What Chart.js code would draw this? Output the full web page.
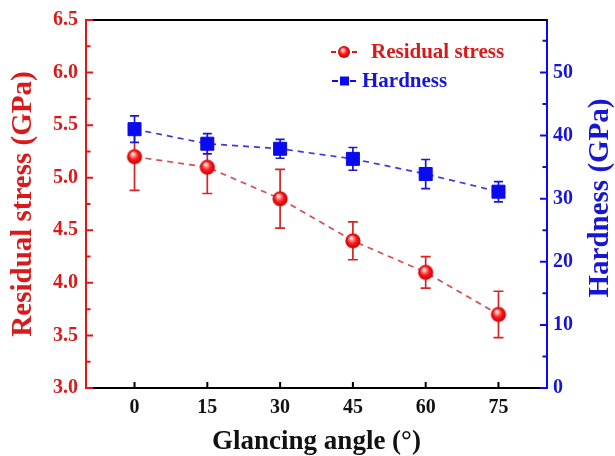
<!DOCTYPE html>
<html>
<head>
<meta charset="utf-8">
<script src="https://cdn.jsdelivr.net/npm/chart.js@4/dist/chart.umd.min.js"></script>
<style>
  html, body { margin: 0; padding: 0; background: #fff; }
  canvas { display: block; }
</style>
</head>
<body>
<canvas id="c" width="615" height="456"></canvas>
<script>
// Glancing angle (degrees)
const angles = [0, 15, 30, 45, 60, 75];
// Residual stress (GPa) and its error
const stress = [5.2, 5.1, 4.8, 4.4, 4.1, 3.7];
const stressErr = [0.32, 0.25, 0.28, 0.18, 0.15, 0.22];
// Hardness (GPa) and its error
const hardness = [41.0, 38.7, 37.9, 36.3, 33.9, 31.1];
const hardnessErr = [2.1, 1.6, 1.5, 1.8, 2.3, 1.6];

// Tick values
const xTicks = [0, 15, 30, 45, 60, 75];
const stressTicks = [3.0, 3.5, 4.0, 4.5, 5.0, 5.5, 6.0, 6.5];
const stressMinor = [3.25, 3.75, 4.25, 4.75, 5.25, 5.75, 6.25];
const hardnessTicks = [0, 10, 20, 30, 40, 50];
const hardnessMinor = [5, 15, 25, 35, 45, 55];

const SERIF = '"Liberation Serif", "Times New Roman", serif';
const RED = '#e21414';
const RED_TEXT = '#d91a1a';
const BLUE = '#0a0af0';
const BLUE_TEXT = '#1616d4';
const HARDNESS_TITLE = 'Hardness (GPa)';

// Shaded red sphere used as the stress marker
function makeSphere(r) {
  const c = document.createElement('canvas');
  const s = Math.ceil(r * 2 + 2);
  c.width = s; c.height = s;
  const g = c.getContext('2d');
  const cx = s / 2, cy = s / 2;
  const grad = g.createRadialGradient(cx - r * 0.25, cy - r * 0.4, r * 0.05, cx, cy, r);
  grad.addColorStop(0, '#ffffff');
  grad.addColorStop(0.22, '#ff9a9a');
  grad.addColorStop(0.55, '#ff1a1a');
  grad.addColorStop(1, '#c40000');
  g.fillStyle = grad;
  g.beginPath();
  g.arc(cx, cy, r, 0, Math.PI * 2);
  g.fill();
  return c;
}
const sphere = makeSphere(7.6);
const sphereSmall = makeSphere(6);

// Vertical error bars with caps, drawn beneath the markers
const errorBars = {
  id: 'errorBars',
  beforeDatasetsDraw(chart) {
    const { ctx, scales } = chart;
    const x = scales.x;
    const draw = (vals, errs, sc, color, cap) => {
      ctx.save();
      ctx.strokeStyle = color;
      ctx.lineWidth = 1.7;
      vals.forEach((v, i) => {
        const px = x.getPixelForValue(angles[i]);
        const top = sc.getPixelForValue(v + errs[i]);
        const bot = sc.getPixelForValue(v - errs[i]);
        ctx.beginPath();
        ctx.moveTo(px, top); ctx.lineTo(px, bot);
        ctx.moveTo(px - cap, top); ctx.lineTo(px + cap, top);
        ctx.moveTo(px - cap, bot); ctx.lineTo(px + cap, bot);
        ctx.stroke();
      });
      ctx.restore();
    };
    draw(stress, stressErr, scales.yL, '#d42424', 5);
    draw(hardness, hardnessErr, scales.yR, '#1818d8', 4.5);
  }
};

// Top frame line, inward-pointing tick marks and the right-hand axis title
const frameTicks = {
  id: 'frameTicks',
  afterDraw(chart) {
    const { ctx, chartArea: a, scales } = chart;
    ctx.save();
    ctx.lineWidth = 2;
    ctx.strokeStyle = '#000';
    ctx.beginPath();
    ctx.moveTo(a.left, a.top); ctx.lineTo(a.right, a.top);
    ctx.stroke();

    const vTicks = (sc, list, len, color, side) => {
      ctx.strokeStyle = color;
      ctx.lineWidth = 2;
      ctx.beginPath();
      list.forEach(v => {
        const py = sc.getPixelForValue(v);
        const x0 = side === 'left' ? a.left : a.right;
        const x1 = side === 'left' ? a.left + len : a.right - len;
        ctx.moveTo(x0, py); ctx.lineTo(x1, py);
      });
      ctx.stroke();
    };
    vTicks(scales.yL, stressTicks, 7, RED, 'left');
    vTicks(scales.yL, stressMinor, 4.5, RED, 'left');
    vTicks(scales.yR, hardnessTicks, 7, BLUE, 'right');
    vTicks(scales.yR, hardnessMinor, 4.5, BLUE, 'right');

    ctx.strokeStyle = '#000';
    ctx.beginPath();
    xTicks.forEach(v => {
      const px = scales.x.getPixelForValue(v);
      ctx.moveTo(px, a.bottom); ctx.lineTo(px, a.bottom - 6);
    });
    ctx.stroke();

    // Right axis title reads bottom-to-top like the left one
    ctx.translate(601, (a.top + a.bottom) / 2 - 6);
    ctx.rotate(-Math.PI / 2);
    ctx.font = 'bold 29px ' + SERIF;
    ctx.fillStyle = BLUE_TEXT;
    ctx.textAlign = 'center';
    ctx.textBaseline = 'middle';
    ctx.fillText(HARDNESS_TITLE, 0, 0);
    ctx.restore();
  }
};

// Legend in the upper right of the plot
const legendBox = {
  id: 'legendBox',
  afterDraw(chart) {
    const { ctx } = chart;
    ctx.save();
    ctx.font = 'bold 21px ' + SERIF;
    ctx.textBaseline = 'middle';
    ctx.textAlign = 'left';
    ctx.lineWidth = 2;

    // Residual stress entry
    let y = 52;
    ctx.strokeStyle = RED;
    ctx.beginPath();
    ctx.moveTo(331, y); ctx.lineTo(336, y);
    ctx.moveTo(352, y); ctx.lineTo(357, y);
    ctx.stroke();
    ctx.drawImage(sphereSmall, 344 - sphereSmall.width / 2, y - sphereSmall.height / 2);
    ctx.fillStyle = RED_TEXT;
    ctx.fillText(chart.data.datasets[0].label, 371, y + 1);

    // Hardness entry
    y = 81;
    ctx.strokeStyle = BLUE;
    ctx.beginPath();
    ctx.moveTo(332, y); ctx.lineTo(338, y);
    ctx.moveTo(350, y); ctx.lineTo(356, y);
    ctx.stroke();
    ctx.fillStyle = BLUE;
    ctx.fillRect(340, y - 4.5, 9, 9);
    ctx.fillStyle = BLUE_TEXT;
    ctx.fillText(chart.data.datasets[1].label, 362, y + 1);
    ctx.restore();
  }
};

const tickFont = { family: SERIF, size: 20, weight: 'bold' };
const xTitleFont = { family: SERIF, size: 27, weight: 'bold', lineHeight: 1 };
const yTitleFont = { family: SERIF, size: 29, weight: 'bold', lineHeight: 1 };

new Chart(document.getElementById('c'), {
  type: 'line',
  data: {
    datasets: [
      {
        label: 'Residual stress',
        yAxisID: 'yL',
        data: angles.map((a, i) => ({ x: a, y: stress[i] })),
        borderColor: 'rgba(205,70,70,0.95)',
        borderWidth: 1.7,
        borderDash: [6, 5],
        tension: 0,
        pointStyle: sphere,
        pointRadius: 8,
        pointHoverRadius: 8,
        order: 2
      },
      {
        label: 'Hardness',
        yAxisID: 'yR',
        data: angles.map((a, i) => ({ x: a, y: hardness[i] })),
        borderColor: 'rgba(50,50,210,0.95)',
        borderWidth: 1.7,
        borderDash: [6, 5],
        tension: 0,
        pointStyle: 'rect',
        pointRadius: 9.2,
        pointHoverRadius: 9.2,
        pointBackgroundColor: BLUE,
        pointBorderColor: BLUE,
        pointBorderWidth: 1,
        order: 1
      }
    ]
  },
  options: {
    responsive: false,
    animation: false,
    devicePixelRatio: 1,
    events: [],
    layout: { padding: { top: 17, right: 0, bottom: 0, left: 0 } },
    plugins: { legend: { display: false }, tooltip: { enabled: false } },
    scales: {
      x: {
        type: 'linear',
        min: -10,
        max: 85,
        afterBuildTicks: s => { s.ticks = xTicks.map(v => ({ value: v })); },
        afterFit: s => { s.height = 68; },
        grid: { display: false, drawTicks: false },
        border: { display: true, color: '#000', width: 2 },
        ticks: { padding: 8, color: '#111', font: tickFont, maxRotation: 0 },
        title: { display: true, text: 'Glancing angle (°)', color: '#111', font: xTitleFont, padding: 0 }
      },
      yL: {
        position: 'left',
        min: 3,
        max: 6.5,
        afterBuildTicks: s => { s.ticks = stressTicks.map(v => ({ value: v })); },
        afterFit: s => { s.width = 86; },
        grid: { display: false, drawTicks: false },
        border: { display: true, color: RED, width: 2 },
        ticks: { padding: 8, color: RED_TEXT, font: tickFont, callback: v => v.toFixed(1) },
        title: { display: true, text: 'Residual stress (GPa)', color: RED_TEXT, font: yTitleFont, padding: { top: 9, bottom: 0 } }
      },
      yR: {
        position: 'right',
        min: 0,
        max: 58.3,
        afterBuildTicks: s => { s.ticks = hardnessTicks.map(v => ({ value: v })); },
        afterFit: s => { s.width = 68; },
        grid: { display: false, drawTicks: false },
        border: { display: true, color: BLUE, width: 2 },
        ticks: { padding: 6, color: BLUE_TEXT, font: tickFont },
        title: { display: false }
      }
    }
  },
  plugins: [errorBars, frameTicks, legendBox]
});
</script>
</body>
</html>
